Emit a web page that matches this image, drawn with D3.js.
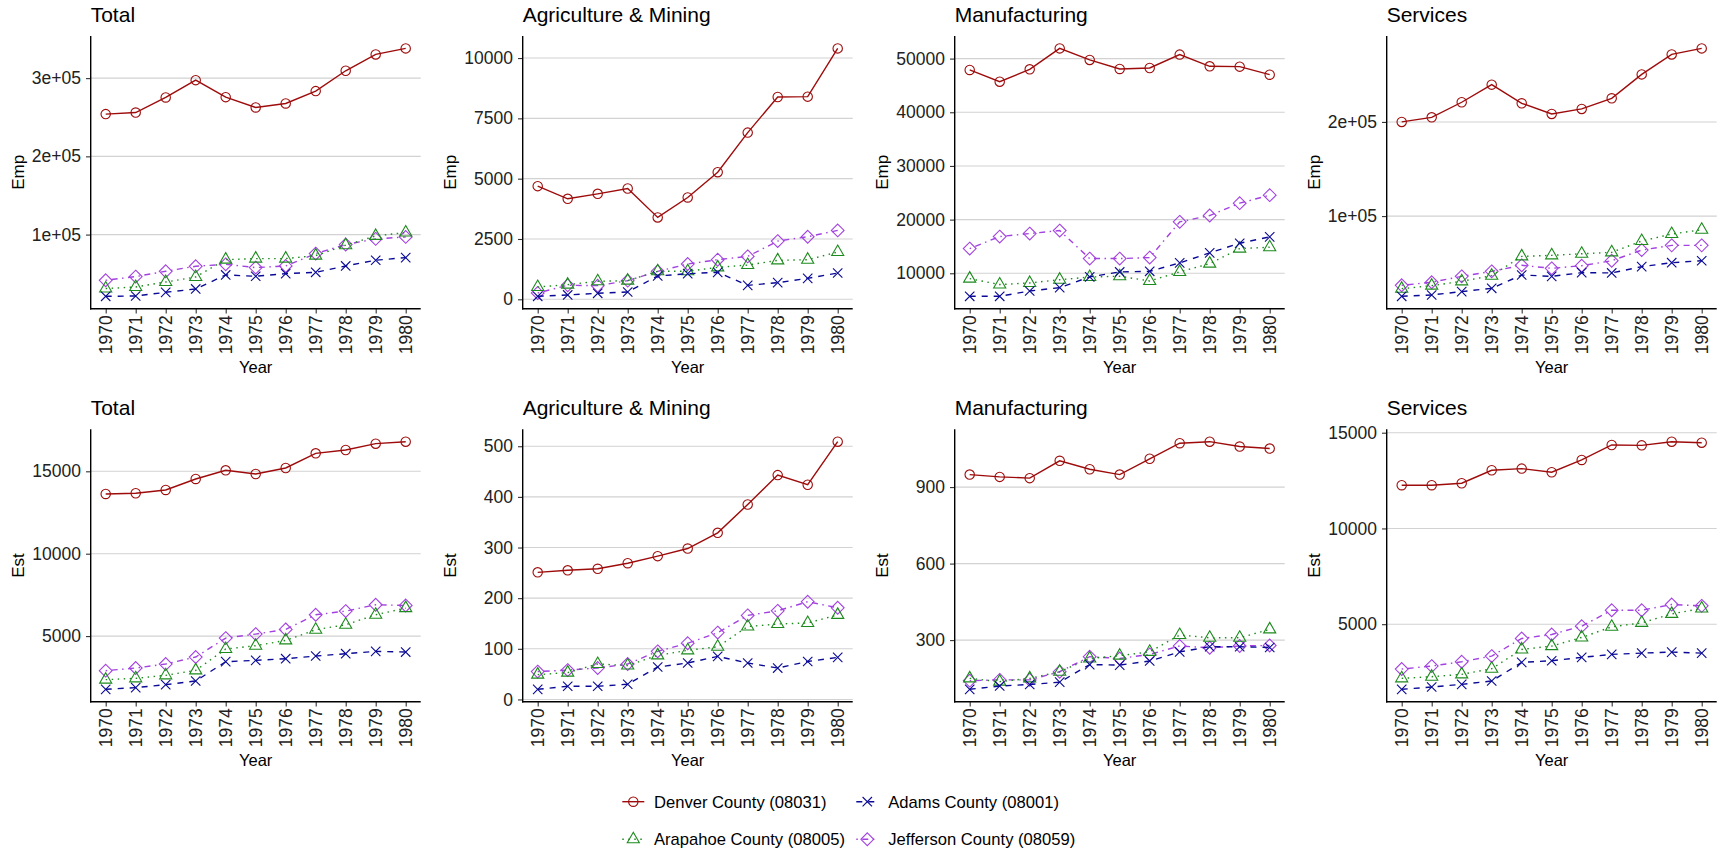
<!DOCTYPE html>
<html>
<head>
<meta charset="utf-8">
<script src="https://cdn.jsdelivr.net/npm/d3@7"></script>
<style>
  html, body { margin: 0; padding: 0; background: #fff; }
  svg { display: block; font-family: "Liberation Sans", Arial, sans-serif; }
</style>
</head>
<body>
<svg id="chart" width="1719" height="851"></svg>
<script>
// ---------- data ----------
const years = [1970, 1971, 1972, 1973, 1974, 1975, 1976, 1977, 1978, 1979, 1980];
const counties = ["Denver County (08031)", "Adams County (08001)", "Arapahoe County (08005)", "Jefferson County (08059)"];
const sectors = ["Total", "Agriculture & Mining", "Manufacturing", "Services"];
const measures = ["Emp", "Est"];

// each array: [Denver, Adams, Arapahoe, Jefferson]
const empTotal = [
  [254000, 256000, 275300, 297400, 275700, 262500, 267600, 283400, 309400, 330300, 338000],
  [21100, 21500, 26200, 30500, 48400, 46700, 50100, 51800, 59900, 67200, 70600],
  [31000, 33000, 39400, 45800, 68000, 69300, 69300, 73100, 86400, 98300, 102600],
  [41600, 46300, 53100, 59500, 62000, 57800, 59900, 75700, 87200, 94500, 97000]
];
const empAgri = [
  [4690, 4165, 4372, 4593, 3393, 4221, 5269, 6910, 8386, 8400, 10400],
  [124, 180, 248, 303, 965, 1062, 1117, 579, 690, 869, 1090],
  [510, 607, 745, 772, 1160, 1160, 1324, 1420, 1613, 1641, 1958],
  [262, 579, 565, 772, 1158, 1462, 1641, 1779, 2413, 2593, 2855]
];
const empManuf = [
  [47880, 45700, 48000, 51900, 49750, 48070, 48250, 50740, 48560, 48500, 47000],
  [5710, 5710, 6700, 7330, 9320, 10250, 10370, 11930, 13800, 15600, 16780],
  [9000, 7900, 8200, 8800, 9300, 9450, 8570, 10250, 11800, 14600, 14850],
  [14600, 16840, 17400, 17960, 12740, 12740, 12920, 19580, 20760, 23060, 24550]
];
const empServ = [
  [200000, 204900, 220900, 239600, 219800, 208500, 213800, 225100, 250500, 271700, 278100],
  [14800, 16200, 19800, 23300, 37400, 36000, 39900, 39600, 46300, 50500, 52600],
  [22900, 26100, 30700, 36700, 57200, 58300, 60000, 61500, 73500, 80900, 85500],
  [26500, 29700, 36000, 41300, 47700, 44500, 47300, 52600, 63900, 68900, 68900]
];
const estTotal = [
  [13626, 13667, 13869, 14535, 15060, 14838, 15202, 16091, 16293, 16677, 16798],
  [1769, 1870, 2052, 2274, 3446, 3526, 3627, 3789, 3930, 4072, 4031],
  [2355, 2436, 2618, 2920, 4213, 4415, 4738, 5385, 5688, 6294, 6698],
  [2900, 3062, 3304, 3728, 4880, 5122, 5405, 6294, 6516, 6900, 6859]
];
const estAgri = [
  [251, 255, 258, 269, 283, 298, 329, 385, 443, 424, 509],
  [20, 26, 26, 30, 64, 72, 85, 72, 62, 75, 83],
  [49, 53, 70, 67, 87, 97, 104, 144, 149, 151, 167],
  [55, 58, 62, 70, 95, 111, 132, 166, 175, 193, 181]
];
const estManuf = [
  [949, 940, 935, 1003, 970, 949, 1011, 1072, 1078, 1059, 1051],
  [107, 120, 126, 135, 204, 202, 218, 254, 274, 274, 271],
  [150, 137, 150, 176, 228, 239, 254, 320, 309, 309, 342],
  [141, 144, 144, 176, 235, 228, 244, 277, 270, 277, 279]
];
const estServ = [
  [12257, 12257, 12361, 13038, 13125, 12934, 13576, 14358, 14340, 14531, 14479],
  [1598, 1719, 1858, 2032, 3004, 3091, 3265, 3421, 3490, 3542, 3490],
  [2171, 2258, 2379, 2674, 3681, 3855, 4306, 4862, 5070, 5539, 5817],
  [2657, 2813, 3039, 3334, 4254, 4462, 4896, 5730, 5730, 6025, 5956]
];

// tick values and labels per panel
const empTotalTicks = [100000, 200000, 300000];
const empTotalLabels = ["1e+05", "2e+05", "3e+05"];
const empAgriTicks = [0, 2500, 5000, 7500, 10000];
const empManufTicks = [10000, 20000, 30000, 40000, 50000];
const empServTicks = [100000, 200000];
const empServLabels = ["1e+05", "2e+05"];
const estTotalTicks = [5000, 10000, 15000];
const estAgriTicks = [0, 100, 200, 300, 400, 500];
const estManufTicks = [300, 600, 900];
const estServTicks = [5000, 10000, 15000];

// ---------- styles ----------
const colors = ["#9e0b0b", "#0a0a96", "#1c8a1c", "#a342e0"];
const shapes = ["circle", "cross", "triangle", "diamond"];
const dashes = [null, "6,6", "1.5,4.5", "1.5,4.5,6,4.5"];

const panels = [
  { row: 0, col: 0, m: 0, s: 0, data: empTotal, ticks: empTotalTicks, labels: empTotalLabels },
  { row: 0, col: 1, m: 0, s: 1, data: empAgri, ticks: empAgriTicks },
  { row: 0, col: 2, m: 0, s: 2, data: empManuf, ticks: empManufTicks },
  { row: 0, col: 3, m: 0, s: 3, data: empServ, ticks: empServTicks, labels: empServLabels },
  { row: 1, col: 0, m: 1, s: 0, data: estTotal, ticks: estTotalTicks },
  { row: 1, col: 1, m: 1, s: 1, data: estAgri, ticks: estAgriTicks },
  { row: 1, col: 2, m: 1, s: 2, data: estManuf, ticks: estManufTicks },
  { row: 1, col: 3, m: 1, s: 3, data: estServ, ticks: estServTicks }
];

const layout = {
  left0: 90.7, colStep: 432, plotW: 330,
  tops: [36, 429.3], bottoms: [308.7, 701.7]
};

const svg = d3.select("#chart");

function symbolPath(shape) {
  const R = 4.7;
  if (shape === "circle") {
    return d3.path ? (() => { const p = d3.path(); p.arc(0, 0, R, 0, 2 * Math.PI); p.closePath(); return p.toString(); })() : "";
  }
  if (shape === "cross") {
    const c = 4.7;
    return `M${-c},${-c}L${c},${c}M${-c},${c}L${c},${-c}`;
  }
  if (shape === "triangle") {
    const r = 1.555 * 4.5, xc = 1.347 * 4.5, yc = 0.778 * 4.5;
    return `M0,${-r}L${xc},${yc}L${-xc},${yc}Z`;
  }
  if (shape === "diamond") {
    const d = 6.4;
    return `M0,${-d}L${d},0L0,${d}L${-d},0Z`;
  }
}

panels.forEach(p => {
  const left = layout.left0 + p.col * layout.colStep;
  const right = left + layout.plotW;
  const top = layout.tops[p.row];
  const bottom = layout.bottoms[p.row];

  const all = p.data.flat();
  const lo = d3.min(all), hi = d3.max(all);
  const pad = (hi - lo) * 0.05;

  const x = d3.scaleLinear().domain([1969.5, 1980.5]).range([left, right]);
  const y = d3.scaleLinear().domain([lo - pad, hi + pad]).range([bottom, top]);

  const g = svg.append("g");

  // gridlines
  g.selectAll(".grid").data(p.ticks).enter().append("line")
    .attr("x1", left).attr("x2", right)
    .attr("y1", d => y(d)).attr("y2", d => y(d))
    .attr("stroke", "#d2d2d2").attr("stroke-width", 1.1);

  // y axis
  const yAxis = d3.axisLeft(y).tickValues(p.ticks).tickSize(4.7).tickPadding(5)
    .tickFormat((d, i) => p.labels ? p.labels[i] : String(d));
  const ya = g.append("g").attr("transform", `translate(${left},0)`).call(yAxis);
  ya.select(".domain").remove();
  ya.selectAll(".tick line").attr("stroke", "#333").attr("stroke-width", 1.1);
  ya.selectAll(".tick text").attr("font-size", "17.5px").attr("fill", "#222")
    .attr("font-family", "Liberation Sans, Arial, sans-serif");

  // x axis
  const xAxis = d3.axisBottom(x).tickValues(years).tickSize(4.7).tickFormat(d3.format("d"));
  const xa = g.append("g").attr("transform", `translate(0,${bottom})`).call(xAxis);
  xa.select(".domain").remove();
  xa.selectAll(".tick line").attr("stroke", "#333").attr("stroke-width", 1.1);
  xa.selectAll(".tick text")
    .attr("font-size", "17.5px").attr("fill", "#222")
    .attr("font-family", "Liberation Sans, Arial, sans-serif")
    .attr("transform", "rotate(-90)")
    .attr("text-anchor", "end")
    .attr("x", -6.5).attr("y", 0).attr("dy", "0.34em");

  // axis lines
  g.append("line").attr("x1", left).attr("x2", left).attr("y1", top).attr("y2", bottom + 0.7)
    .attr("stroke", "#000").attr("stroke-width", 1.4);
  g.append("line").attr("x1", left - 0.7).attr("x2", right).attr("y1", bottom).attr("y2", bottom)
    .attr("stroke", "#000").attr("stroke-width", 1.4);

  // lines and points (draw Denver last? keep legend order)
  const line = d3.line().x((d, i) => x(years[i])).y(d => y(d));
  [3, 2, 1, 0].forEach(ci => {
    g.append("path").attr("d", line(p.data[ci]))
      .attr("fill", "none").attr("stroke", colors[ci]).attr("stroke-width", 1.4)
      .attr("stroke-dasharray", dashes[ci]);
    g.selectAll(null).data(p.data[ci]).enter().append("path")
      .attr("d", symbolPath(shapes[ci]))
      .attr("transform", (d, i) => `translate(${x(years[i])},${y(d)})`)
      .attr("fill", "none").attr("stroke", colors[ci]).attr("stroke-width", 1.1);
  });

  // titles
  g.append("text").attr("x", left).attr("y", top - 14.5)
    .attr("font-size", "21px").attr("fill", "#000").text(sectors[p.s]);
  g.append("text")
    .attr("transform", `translate(${left - 72.5},${(top + bottom) / 2}) rotate(-90)`)
    .attr("text-anchor", "middle").attr("dy", "0.36em")
    .attr("font-size", "17px").attr("fill", "#000").text(measures[p.m]);
  g.append("text").attr("x", (left + right) / 2).attr("y", bottom + 58)
    .attr("text-anchor", "middle").attr("dy", "0.36em")
    .attr("font-size", "16.5px").attr("fill", "#000").text("Year");
});

// ---------- legend ----------
const legendPos = [
  { cx: 633.3, tx: 654, cy: 801.7 },
  { cx: 867.3, tx: 888.3, cy: 801.7 },
  { cx: 633.3, tx: 654, cy: 839.3 },
  { cx: 867.3, tx: 888.3, cy: 839.3 }
];
const lg = svg.append("g");
counties.forEach((c, ci) => {
  const pos = legendPos[ci];
  lg.append("line").attr("x1", pos.cx - 11).attr("x2", pos.cx + 11)
    .attr("y1", pos.cy).attr("y2", pos.cy)
    .attr("stroke", colors[ci]).attr("stroke-width", 1.4).attr("stroke-dasharray", dashes[ci]);
  lg.append("path").attr("d", symbolPath(shapes[ci]))
    .attr("transform", `translate(${pos.cx},${pos.cy})`)
    .attr("fill", "none").attr("stroke", colors[ci]).attr("stroke-width", 1.1);
  lg.append("text").attr("x", pos.tx).attr("y", pos.cy).attr("dy", "0.36em")
    .attr("font-size", "16.6px").attr("fill", "#000").text(c);
});
</script>
</body>
</html>
